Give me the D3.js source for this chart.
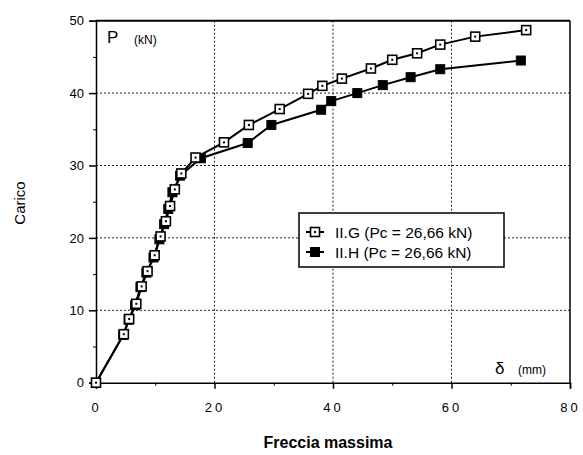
<!DOCTYPE html>
<html>
<head>
<meta charset="utf-8">
<script src="https://cdn.jsdelivr.net/npm/d3@7"></script>
<style>
  html, body { margin: 0; padding: 0; background: #fff; }
  svg { display: block; font-family: "Liberation Sans", Arial, Helvetica, sans-serif; }
</style>
</head>
<body>
<svg id="chart" width="583" height="455"></svg>
<script>
// Load–deflection curves, specimens II.G and II.H
const deflG = [0, 4.7, 5.6, 6.8, 7.7, 8.7, 9.9, 10.9, 11.8, 12.5, 13.3, 14.4, 16.8, 21.6, 25.8, 31.0, 35.8, 38.2, 41.5, 46.4, 50.0, 54.2, 58.1, 64.0, 72.6];
const loadG = [0, 6.7, 8.8, 10.9, 13.3, 15.4, 17.6, 20.2, 22.3, 24.4, 26.7, 28.9, 31.1, 33.2, 35.6, 37.8, 39.9, 41.0, 42.0, 43.4, 44.6, 45.5, 46.7, 47.8, 48.7];
const deflH = [0, 4.6, 5.5, 6.6, 7.5, 8.5, 9.7, 10.7, 11.5, 12.2, 12.9, 14.2, 17.7, 25.6, 29.6, 38.0, 39.7, 44.1, 48.4, 53.1, 58.1, 71.7];
const loadH = [0, 6.6, 8.7, 10.7, 13.2, 15.2, 17.3, 19.8, 21.9, 24.0, 26.3, 28.6, 31.0, 33.1, 35.6, 37.7, 38.9, 40.0, 41.1, 42.2, 43.3, 44.5];

const xTicks = [0, 20, 40, 60, 80];
const xMinor = [10, 30, 50, 70];
const yTicks = [0, 10, 20, 30, 40, 50];
const yMinor = [5, 15, 25, 35, 45];
const legendLabels = ["II.G (Pc = 26,66 kN)", "II.H (Pc = 26,66 kN)"];

const svg = d3.select("#chart");
const L = 96, R = 570, T = 20.7, B = 382.7;

const x = d3.scaleLinear().domain([0, 80]).range([L, R]);
const y = d3.scaleLinear().domain([0, 50]).range([B, T]);

// dotted grid
const grid = svg.append("g").attr("stroke", "#222").attr("stroke-width", 1).attr("stroke-dasharray", "2,2");
grid.selectAll("line.v").data(xTicks.slice(1, -1)).join("line")
  .attr("x1", d => x(d)).attr("x2", d => x(d)).attr("y1", T).attr("y2", B);
grid.selectAll("line.h").data(yTicks.slice(1, -1)).join("line")
  .attr("x1", L).attr("x2", R).attr("y1", d => y(d)).attr("y2", d => y(d));

// frame: top and right solid
svg.append("line").attr("x1", L).attr("x2", R).attr("y1", T).attr("y2", T)
  .attr("stroke", "#000").attr("stroke-width", 2);
svg.append("line").attr("x1", R).attr("x2", R).attr("y1", T).attr("y2", B)
  .attr("stroke", "#000").attr("stroke-width", 1.5);

// axes
const xAxis = d3.axisBottom(x).tickValues(xTicks).tickSize(6).tickPadding(14).tickFormat(d3.format("d"));
const gx = svg.append("g").attr("transform", `translate(0,${B})`).call(xAxis);
gx.select(".domain").attr("stroke-width", 1.5);
gx.selectAll("text").attr("font-size", 13).attr("letter-spacing", "3px").attr("fill", "#000")
  .attr("font-family", "Liberation Sans, Arial, sans-serif");
gx.selectAll("line").attr("stroke-width", 1.5);
svg.append("g").attr("transform", `translate(0,${B})`)
  .call(d3.axisBottom(x).tickValues(xMinor).tickSize(3).tickFormat(""))
  .call(g => g.select(".domain").remove());

const yAxis = d3.axisLeft(y).tickValues(yTicks).tickSize(7).tickPadding(5).tickFormat(d3.format("d"));
const gy = svg.append("g").attr("transform", `translate(${L},0)`).call(yAxis);
gy.select(".domain").attr("stroke-width", 1.5);
gy.selectAll("text").attr("font-size", 13).attr("fill", "#000")
  .attr("font-family", "Liberation Sans, Arial, sans-serif");
gy.selectAll("line").attr("stroke-width", 1.5);
svg.append("g").attr("transform", `translate(${L},0)`)
  .call(d3.axisLeft(y).tickValues(yMinor).tickSize(3).tickFormat(""))
  .call(g => g.select(".domain").remove());

// series
const line = d3.line().x(d => x(d[0])).y(d => y(d[1]));
const ptsG = deflG.map((d, i) => [d, loadG[i]]);
const ptsH = deflH.map((d, i) => [d, loadH[i]]);

svg.append("path").datum(ptsH).attr("d", line).attr("fill", "none").attr("stroke", "#000").attr("stroke-width", 2);
svg.append("path").datum(ptsG).attr("d", line).attr("fill", "none").attr("stroke", "#000").attr("stroke-width", 2);

function openMarker(g, cx, cy) {
  g.append("rect").attr("x", cx - 4.5).attr("y", cy - 4.5).attr("width", 9).attr("height", 9)
    .attr("fill", "#fff").attr("stroke", "#000").attr("stroke-width", 1.6);
  g.append("rect").attr("x", cx - 1).attr("y", cy - 1).attr("width", 2).attr("height", 2).attr("fill", "#000");
}
function filledMarker(g, cx, cy) {
  g.append("rect").attr("x", cx - 4.5).attr("y", cy - 4.5).attr("width", 9).attr("height", 9)
    .attr("fill", "#000").attr("stroke", "#000").attr("stroke-width", 1);
}

const mH = svg.append("g");
ptsH.forEach(p => filledMarker(mH, x(p[0]), y(p[1])));
const mG = svg.append("g");
ptsG.forEach(p => openMarker(mG, x(p[0]), y(p[1])));

// legend
const lg = svg.append("g");
lg.append("rect").attr("x", 299).attr("y", 213).attr("width", 205).attr("height", 54)
  .attr("fill", "#fff").attr("stroke", "#000").attr("stroke-width", 1.5);
[232, 252].forEach((ry, i) => {
  lg.append("line").attr("x1", 306).attr("x2", 324).attr("y1", ry).attr("y2", ry)
    .attr("stroke", "#000").attr("stroke-width", 2);
  if (i === 0) openMarker(lg, 315, ry); else filledMarker(lg, 315, ry);
  lg.append("text").attr("x", 335).attr("y", ry + 5.5).attr("font-size", 15.5).text(legendLabels[i]);
});

// axis annotations
svg.append("text").attr("x", 107).attr("y", 43).attr("font-size", 17).text("P");
svg.append("text").attr("x", 134).attr("y", 44).attr("font-size", 12).text("(kN)");
svg.append("text").attr("x", 495).attr("y", 374).attr("font-size", 17).text("δ");
svg.append("text").attr("x", 518).attr("y", 374).attr("font-size", 12).text("(mm)");

svg.append("text").attr("x", 328).attr("y", 448).attr("text-anchor", "middle")
  .attr("font-size", 16).attr("font-weight", "bold").text("Freccia massima");
svg.append("text").attr("transform", "translate(25,203) rotate(-90)").attr("text-anchor", "middle")
  .attr("font-size", 15).text("Carico");
</script>
</body>
</html>
